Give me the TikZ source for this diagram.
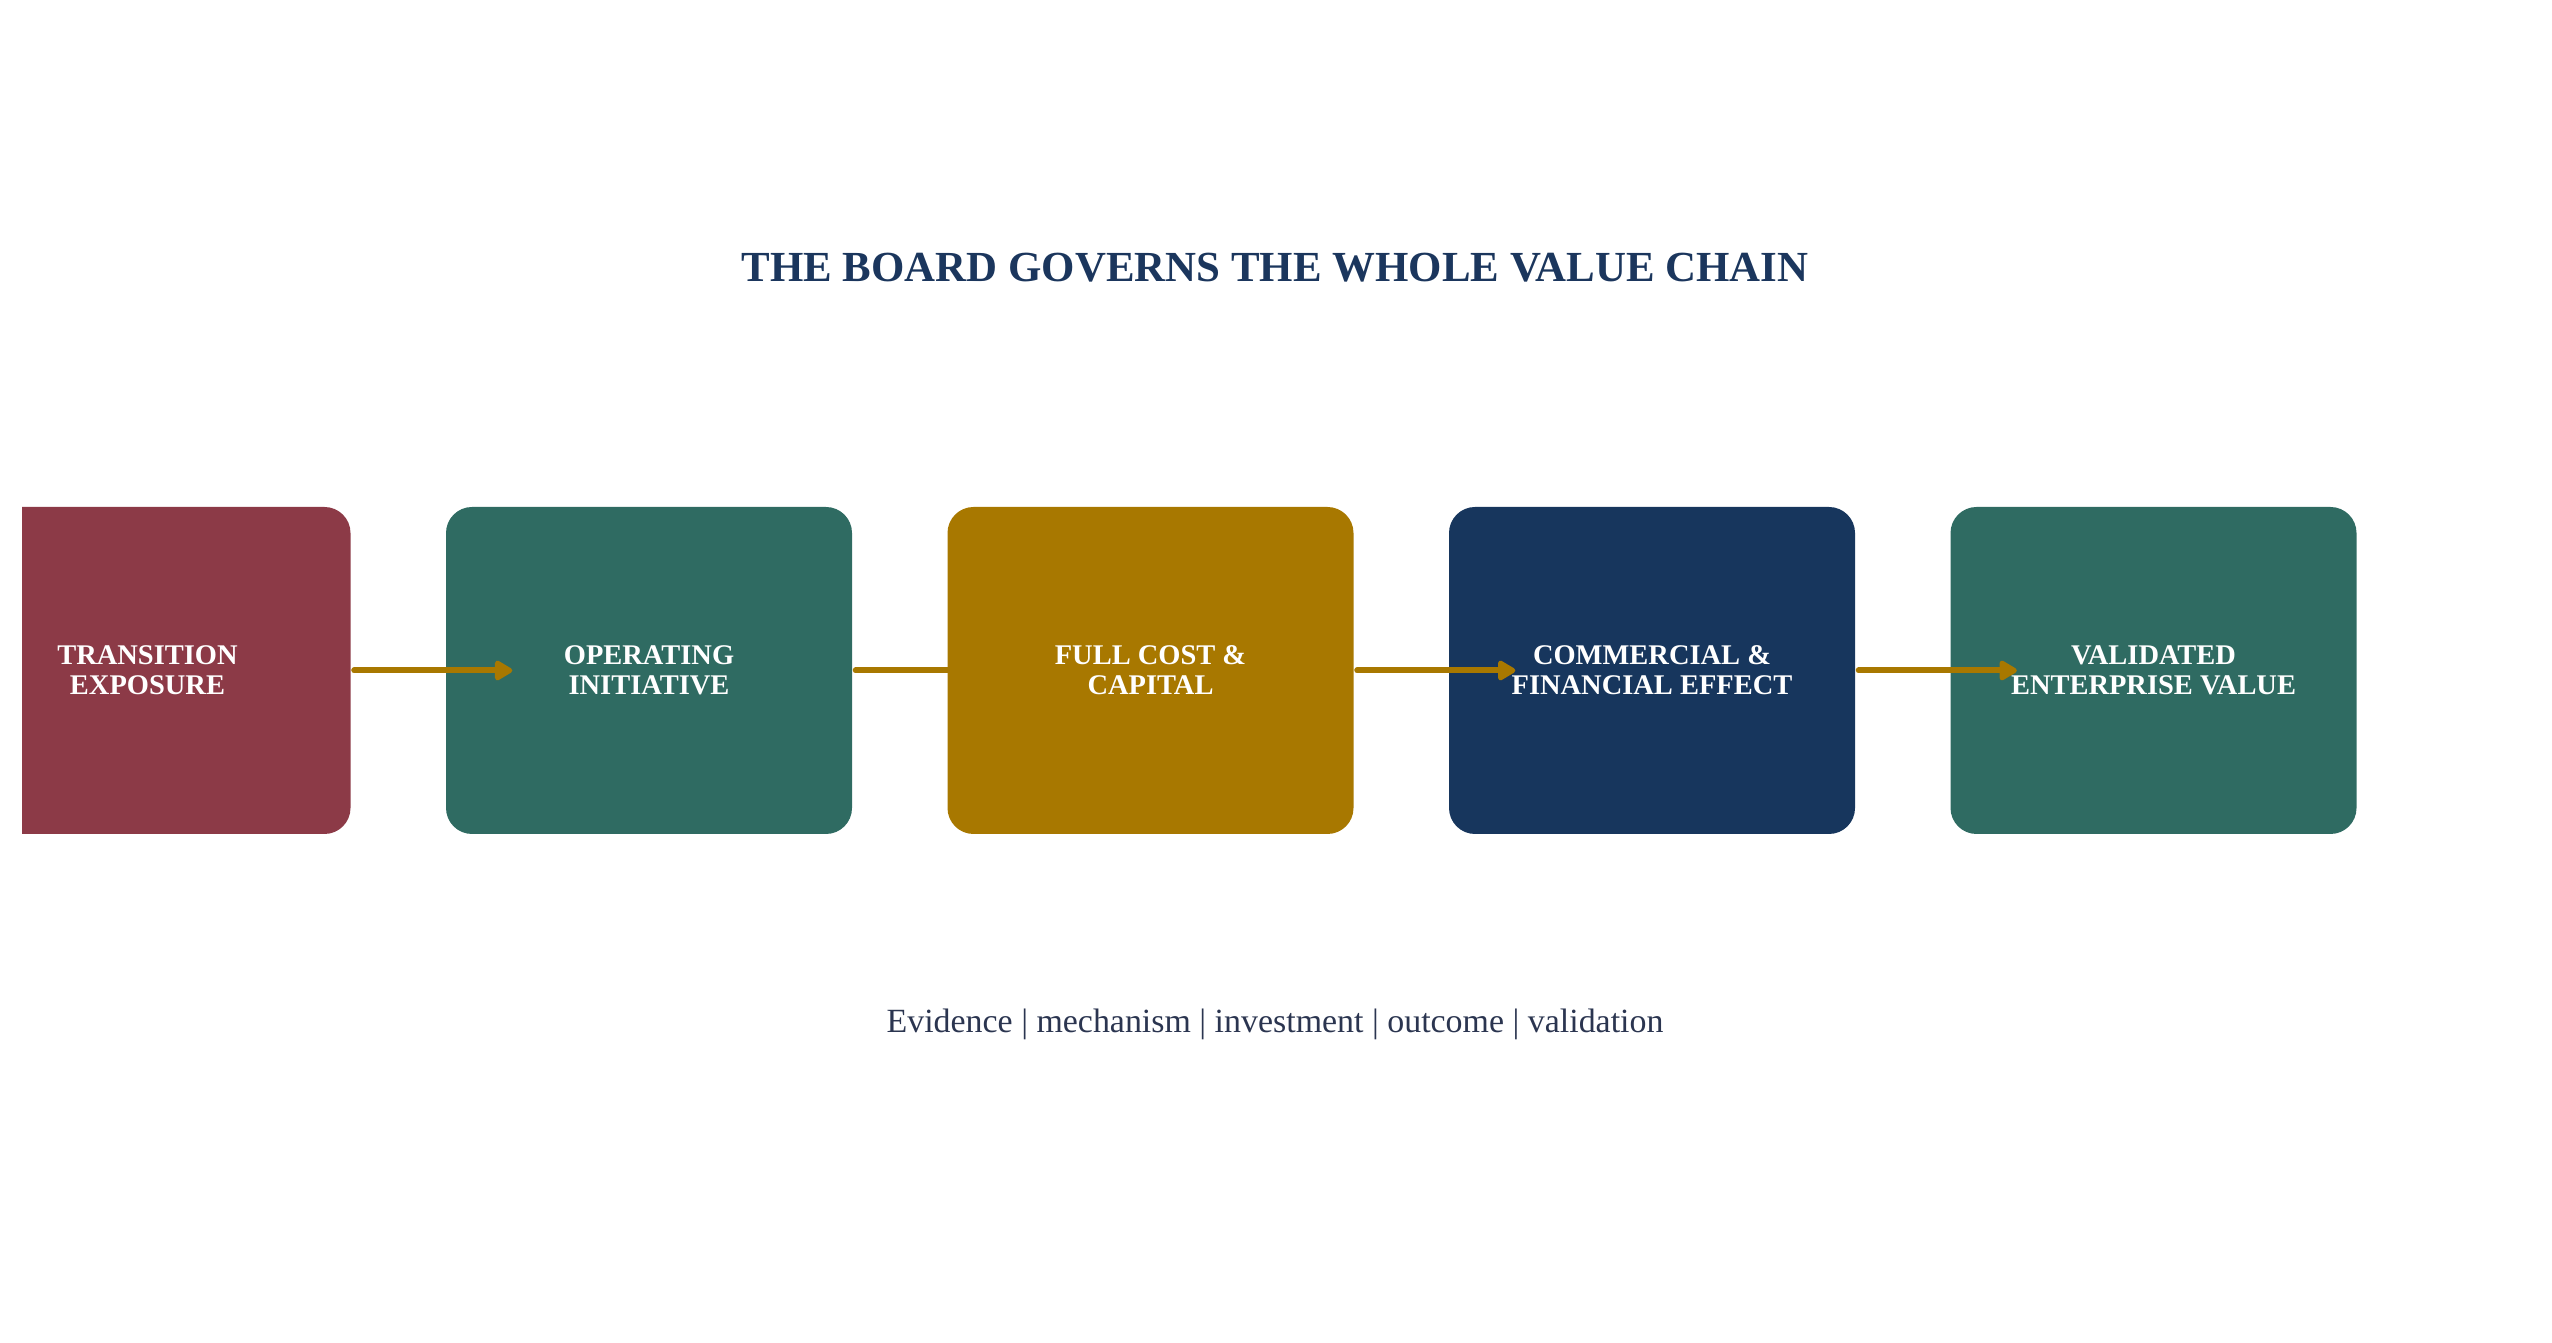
\documentclass[tikz,border=0pt]{standalone}
\usepackage{fontspec}
\setmainfont{Liberation Serif}
\usetikzlibrary{arrows.meta}

\definecolor{titlenavy}{HTML}{1B365D}
\definecolor{boxmaroon}{HTML}{8C3A47}
\definecolor{boxteal}{HTML}{2F6B62}
\definecolor{boxgold}{HTML}{A87800}
\definecolor{boxnavy}{HTML}{17365D}
\definecolor{subgray}{HTML}{2B3550}

\tikzset{
 stage/.style={fill=#1, draw=none, rounded corners=0.26cm, minimum width=4.06cm,
  minimum height=3.27cm, align=center, text=white,
  font=\fontsize{8.1}{8.55}\selectfont\bfseries},
 flow/.style={draw=boxgold, line width=0.06cm, line cap=round,
  -{Triangle[length=0.2cm,width=0.22cm,round]}}
}

\begin{document}
\begin{tikzpicture}
 \useasboundingbox (0,0) rectangle (25.52,13.42);

 \node[anchor=base, text=titlenavy, font=\fontsize{12.2}{14}\selectfont\bfseries]
  (title) at (12.75,10.60) {THE BOARD GOVERNS THE WHOLE VALUE CHAIN};

% first stage runs off the left edge
 \begin{scope}
  \clip (0.22,0) rectangle (25.52,13.42);
  \node[stage=boxmaroon] (exposure) at (1.475,6.715) {TRANSITION\\EXPOSURE};
 \end{scope}
 \node[stage=boxteal] (initiative) at (6.49,6.715) {OPERATING\\INITIATIVE};
 \node[stage=boxgold] (cost) at (11.505,6.715) {FULL COST \&\\CAPITAL};
 \node[stage=boxnavy] (effect) at (16.52,6.715) {COMMERCIAL \&\\FINANCIAL EFFECT};
 \node[stage=boxteal] (value) at (21.535,6.715) {VALIDATED\\ENTERPRISE VALUE};

% arrows run into the next box
 \draw[flow] ([xshift=0.03cm]exposure.east) -- ([xshift=0.67cm]initiative.west);
 \draw[flow] ([xshift=0.03cm]initiative.east) -- ([xshift=0.67cm]cost.west);
 \draw[flow] ([xshift=0.03cm]cost.east) -- ([xshift=0.67cm]effect.west);
 \draw[flow] ([xshift=0.03cm]effect.east) -- ([xshift=0.67cm]value.west);

 \node[anchor=base, text=subgray, font=\fontsize{9.65}{12}\selectfont]
  (steps) at (12.75,3.09) {Evidence | mechanism | investment | outcome | validation};

\end{tikzpicture}
\end{document}
